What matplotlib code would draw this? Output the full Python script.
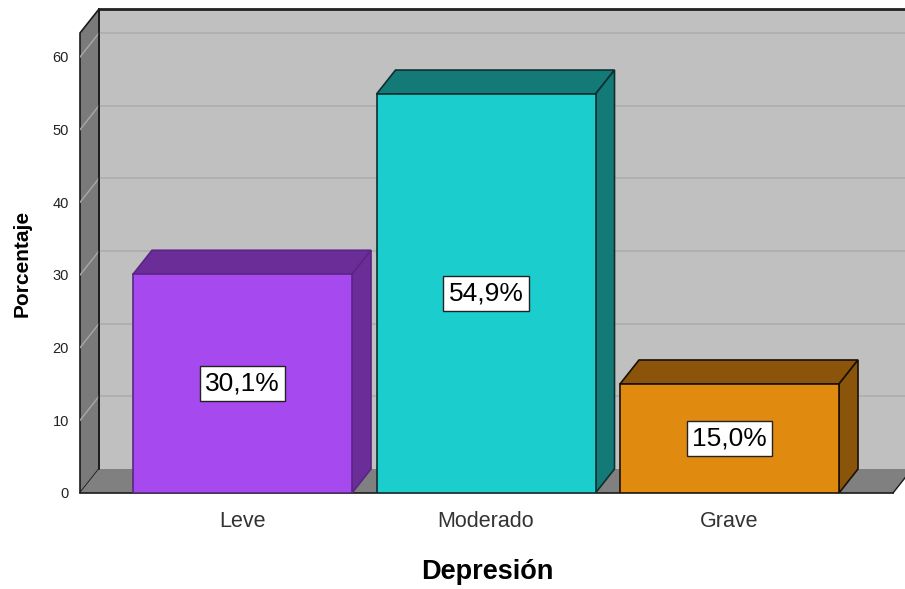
import matplotlib.pyplot as plt
from matplotlib.patches import Polygon

plt.rcParams["font.family"] = ["Liberation Sans", "DejaVu Sans"]

categories = ["Leve", "Moderado", "Grave"]
values = [30.1, 54.9, 15.0]
labels = ["30,1%", "54,9%", "15,0%"]
front_colors = ["#a64af0", "#1ccdcd", "#e08a10"]
shade_colors = ["#6b2d98", "#137a78", "#8a540a"]
edge_colors = ["#5a2585", "#0d2f2f", "#1a1005"]
yticks = [0, 10, 20, 30, 40, 50, 60]

W, H = 905, 589
fig = plt.figure(figsize=(W / 100, H / 100), dpi=100)
# front plane: x 80..905 px, y 493..9 px
ax = fig.add_axes([80 / W, (H - 493) / H, 825 / W, 484 / H])

px_per_cat = 243.5
px_per_val = 436 / 60
x0 = -(242.5 - 80) / px_per_cat
x1 = x0 + 825 / px_per_cat
y1 = 484 / px_per_val
ax.set_xlim(x0, x1)
ax.set_ylim(0, y1)

# depth offset in data units
ddx = 19 / px_per_cat
ddy = 24 / px_per_val
xr = (893 - 242.5) / px_per_cat  # right end of floor front edge
wall_top = y1 - ddy

# back wall
ax.add_patch(Polygon([(x0 + ddx, ddy), (x1 + 1, ddy), (x1 + 1, y1), (x0 + ddx, y1)],
                     closed=True, facecolor="#c0c0c0", edgecolor="none", zorder=0, clip_on=False))
ax.plot([x0 + ddx, x1], [y1, y1], color="#222222", lw=2, zorder=1, clip_on=False)
for v in yticks[1:]:
    ax.plot([x0 + ddx, x1], [v + ddy, v + ddy], color="#adadad", lw=1.2, zorder=1)

# left wall
ax.add_patch(Polygon([(x0, 0), (x0 + ddx, ddy), (x0 + ddx, y1), (x0, wall_top)],
                     closed=True, facecolor="#7a7a7a", edgecolor="#1a1a1a", lw=1.2, zorder=2, clip_on=False))
for v in yticks[1:]:
    ax.plot([x0, x0 + ddx], [v, v + ddy], color="#a8a8a8", lw=1, zorder=2)

# floor
ax.add_patch(Polygon([(x0, 0), (xr, 0), (xr + ddx, ddy), (x0 + ddx, ddy)],
                     closed=True, facecolor="#808080", edgecolor="none", zorder=2, clip_on=False))
ax.plot([x0, xr], [0, 0], color="#1a1a1a", lw=1.2, zorder=3, clip_on=False)
ax.plot([xr, xr + ddx], [0, ddy], color="#1a1a1a", lw=1, zorder=3, clip_on=False)
ax.plot([x0 + ddx, x0 + ddx], [ddy, y1], color="#1a1a1a", lw=1.2, zorder=3, clip_on=False)

# bars
bw = 219 / px_per_cat
xs = list(range(len(categories)))
ax.bar(xs, values, width=bw, color=front_colors, edgecolor=edge_colors, lw=1.2, zorder=5)
for i, v in enumerate(values):
    l, r = i - bw / 2, i + bw / 2
    ax.add_patch(Polygon([(l, v), (r, v), (r + ddx, v + ddy), (l + ddx, v + ddy)], closed=True,
                         facecolor=shade_colors[i], edgecolor=edge_colors[i], lw=1.2, zorder=4))
    ax.add_patch(Polygon([(r, 0), (r + ddx, ddy), (r + ddx, v + ddy), (r, v)], closed=True,
                         facecolor=shade_colors[i], edgecolor=edge_colors[i], lw=1.2, zorder=4))
    ax.text(i, v / 2, labels[i], ha="center", va="center", fontsize=19, color="black", zorder=6,
            bbox=dict(boxstyle="square,pad=0.2", facecolor="white", edgecolor="#222222", lw=1))

for s in ax.spines.values():
    s.set_visible(False)
ax.set_yticks(yticks)
ax.set_yticklabels([str(t) for t in yticks], fontsize=10.5, color="#222222")
ax.tick_params(axis="y", length=0, pad=8)
ax.set_xticks(xs)
ax.set_xticklabels(categories, fontsize=15.5, color="#333333")
ax.tick_params(axis="x", length=0, pad=13)

fig.text(487 / W, 1 - 572 / H, "Depresión", ha="center", va="center", fontsize=19.5, fontweight="bold")
fig.text(22 / W, 1 - 263 / H, "Porcentaje", ha="center", va="center", fontsize=15,
         fontweight="bold", rotation=90)

fig.savefig("out.png", dpi=100)
